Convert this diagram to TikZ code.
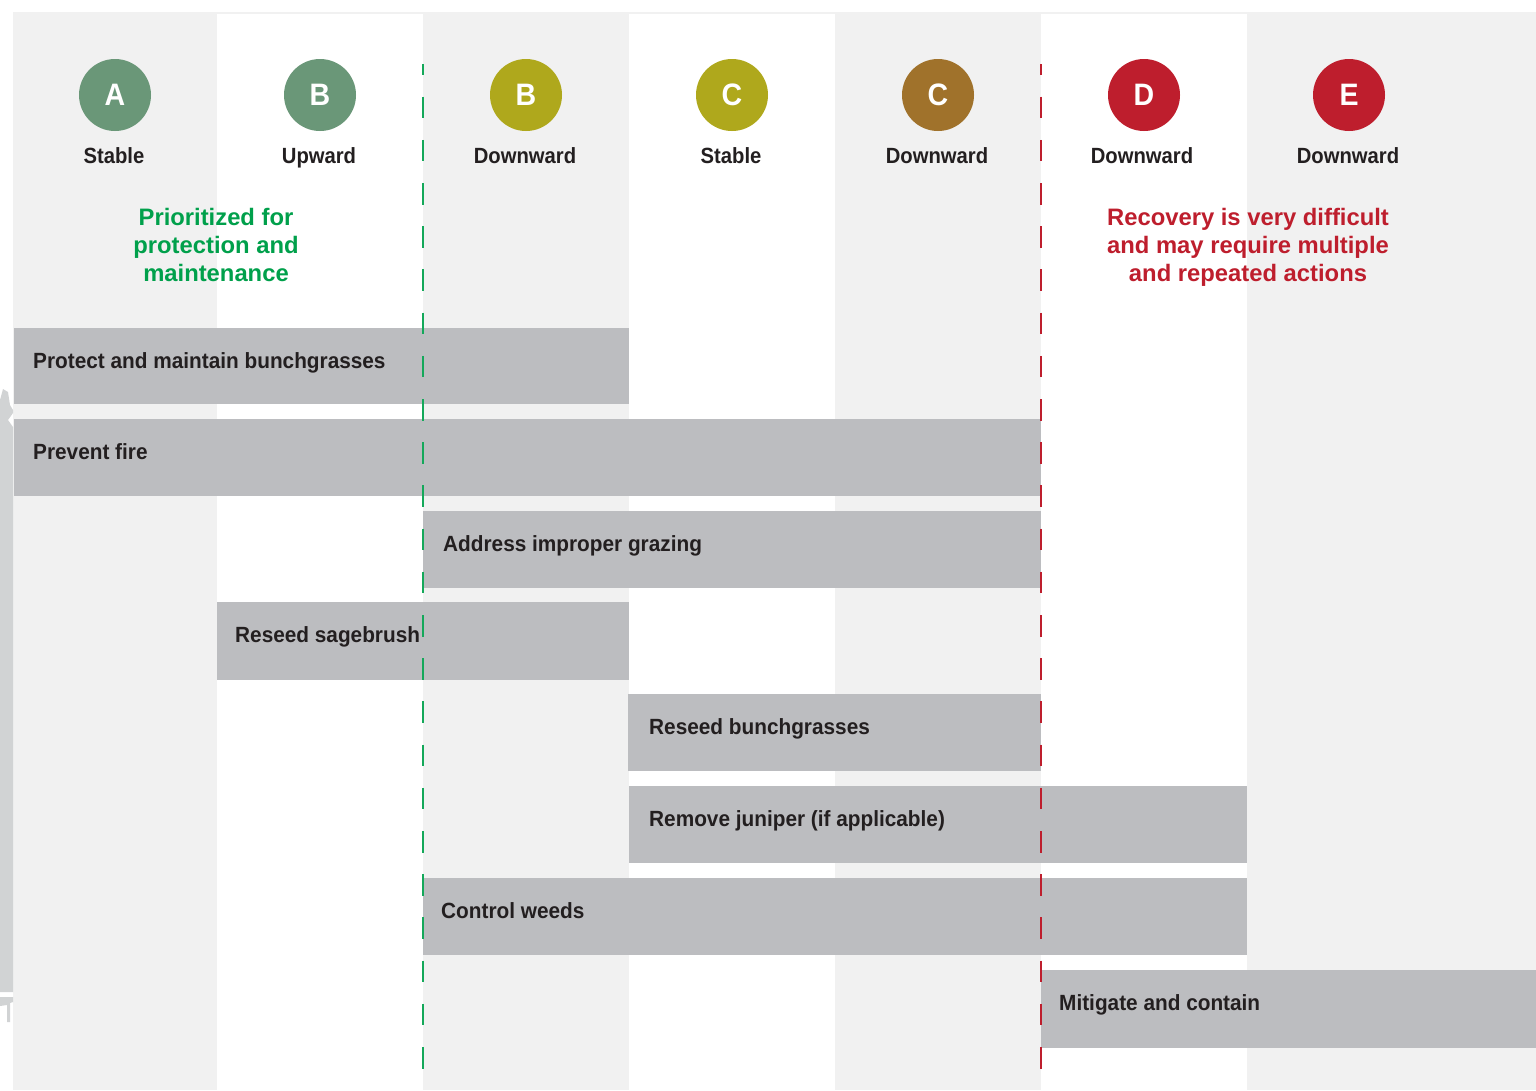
\documentclass[tikz,border=0pt]{standalone}
\usepackage{fontspec}
\setmainfont{Liberation Sans}[FakeStretch=0.92]
\newfontfamily\barfont{Liberation Sans}[FakeStretch=0.945]
\newfontfamily\notefont{Liberation Sans}
\definecolor{colgrey}{HTML}{F1F1F1}
\definecolor{bargrey}{HTML}{BCBDC0}
\definecolor{edgegrey}{HTML}{D1D3D4}
\definecolor{ink}{HTML}{231F20}
\definecolor{sage}{HTML}{6A9778}
\definecolor{olive}{HTML}{AFA81C}
\definecolor{ochre}{HTML}{A0722B}
\definecolor{crimson}{HTML}{BE1E2D}
\definecolor{leaf}{HTML}{00A04B}
\definecolor{leafdash}{HTML}{14A85A}
\tikzset{
  state/.style={circle, minimum size=72pt, inner sep=0pt, text=white,
    font=\bfseries\fontsize{31}{31}\selectfont},
  trend/.style={anchor=base, text=ink, inner sep=0pt,
    font=\bfseries\fontsize{22}{26}\selectfont},
  bartext/.style={anchor=base west, text=ink, inner sep=0pt,
    font=\barfont\bfseries\fontsize{22}{26}\selectfont},
  note/.style={anchor=base, inner sep=0pt,
    font=\notefont\bfseries\fontsize{23.8}{28}\selectfont},
  divider/.style={line width=2pt, dash pattern=on 21.6pt off 21.6pt, dash phase=10.6pt}
}
\begin{document}
\begin{tikzpicture}[x=1pt,y=-1pt]
\useasboundingbox (0,0) rectangle (1536,1090);
% column bands
\fill[colgrey] (13,12) rectangle (1536,1090);
\foreach \xa/\xb in {217/423, 629/835, 1041/1247}
  \fill[white] (\xa,14) rectangle (\xb,1090);
% cropped edge at the far left
\fill[edgegrey] (0,400) -- (3,389) -- (8,392) -- (10,405) -- (13,410) -- (13,413)
  -- (8,420) -- (13,427) -- (13,992) -- (0,992) -- cycle;
\fill[edgegrey] (0,997) -- (13,997) -- (13,1002) -- (10,1003) -- (10,1022)
  -- (7,1022) -- (7,1005) -- (0,1006) -- cycle;

% state markers
\node[state, fill=sage]    (sA)  at (115,95)  {A};
\node[state, fill=sage]    (sB1) at (320,95)  {B};
\node[state, fill=olive]   (sB2) at (526,95)  {B};
\node[state, fill=olive]   (sC1) at (732,95)  {C};
\node[state, fill=ochre]   (sC2) at (938,95)  {C};
\node[state, fill=crimson] (sD)  at (1144,95) {D};
\node[state, fill=crimson] (sE)  at (1349,95) {E};

\node[trend] (tA)  at (114,163)  {Stable};
\node[trend] (tB1) at (319,163)  {Upward};
\node[trend] (tB2) at (525,163)  {Downward};
\node[trend] (tC1) at (731,163)  {Stable};
\node[trend] (tC2) at (937,163)  {Downward};
\node[trend] (tD)  at (1142,163) {Downward};
\node[trend] (tE)  at (1348,163) {Downward};

% group notes
\node[note, text=leaf] (g1) at (216,225) {Prioritized for};
\node[note, text=leaf] (g2) at (216,253) {protection and};
\node[note, text=leaf] (g3) at (216,281) {maintenance};
\node[note, text=crimson] (r1) at (1248,225) {Recovery is very difficult};
\node[note, text=crimson] (r2) at (1248,253) {and may require multiple};
\node[note, text=crimson] (r3) at (1248,281) {and repeated actions};

% action bars
\fill[bargrey] (14,328)   rectangle (629,404);
\fill[bargrey] (14,419)   rectangle (1041,496);
\fill[bargrey] (423,511)  rectangle (1041,588);
\fill[bargrey] (217,602)  rectangle (629,680);
\fill[bargrey] (628,694)  rectangle (1041,771);
\fill[bargrey] (629,786)  rectangle (1247,863);
\fill[bargrey] (423,878)  rectangle (1247,955);
\fill[bargrey] (1041,970) rectangle (1536,1048);

\node[bartext] (a1) at (33,368)    {Protect and maintain bunchgrasses};
\node[bartext] (a2) at (33,459)    {Prevent fire};
\node[bartext] (a3) at (443,551)   {Address improper grazing};
\node[bartext] (a4) at (235,642)   {Reseed sagebrush};
\node[bartext] (a5) at (649,734)   {Reseed bunchgrasses};
\node[bartext] (a6) at (649,826)   {Remove juniper (if applicable)};
\node[bartext] (a7) at (441,918)   {Control weeds};
\node[bartext] (a8) at (1059,1010) {Mitigate and contain};

% thresholds
\coordinate (gTop) at (423,64);
\coordinate (gBot) at (423,1070);
\coordinate (rTop) at (1041,64);
\coordinate (rBot) at (1041,1070);
\draw[divider, leafdash] (gTop) -- (gBot);
\draw[divider, crimson] (rTop) -- (rBot);
\end{tikzpicture}
\end{document}
